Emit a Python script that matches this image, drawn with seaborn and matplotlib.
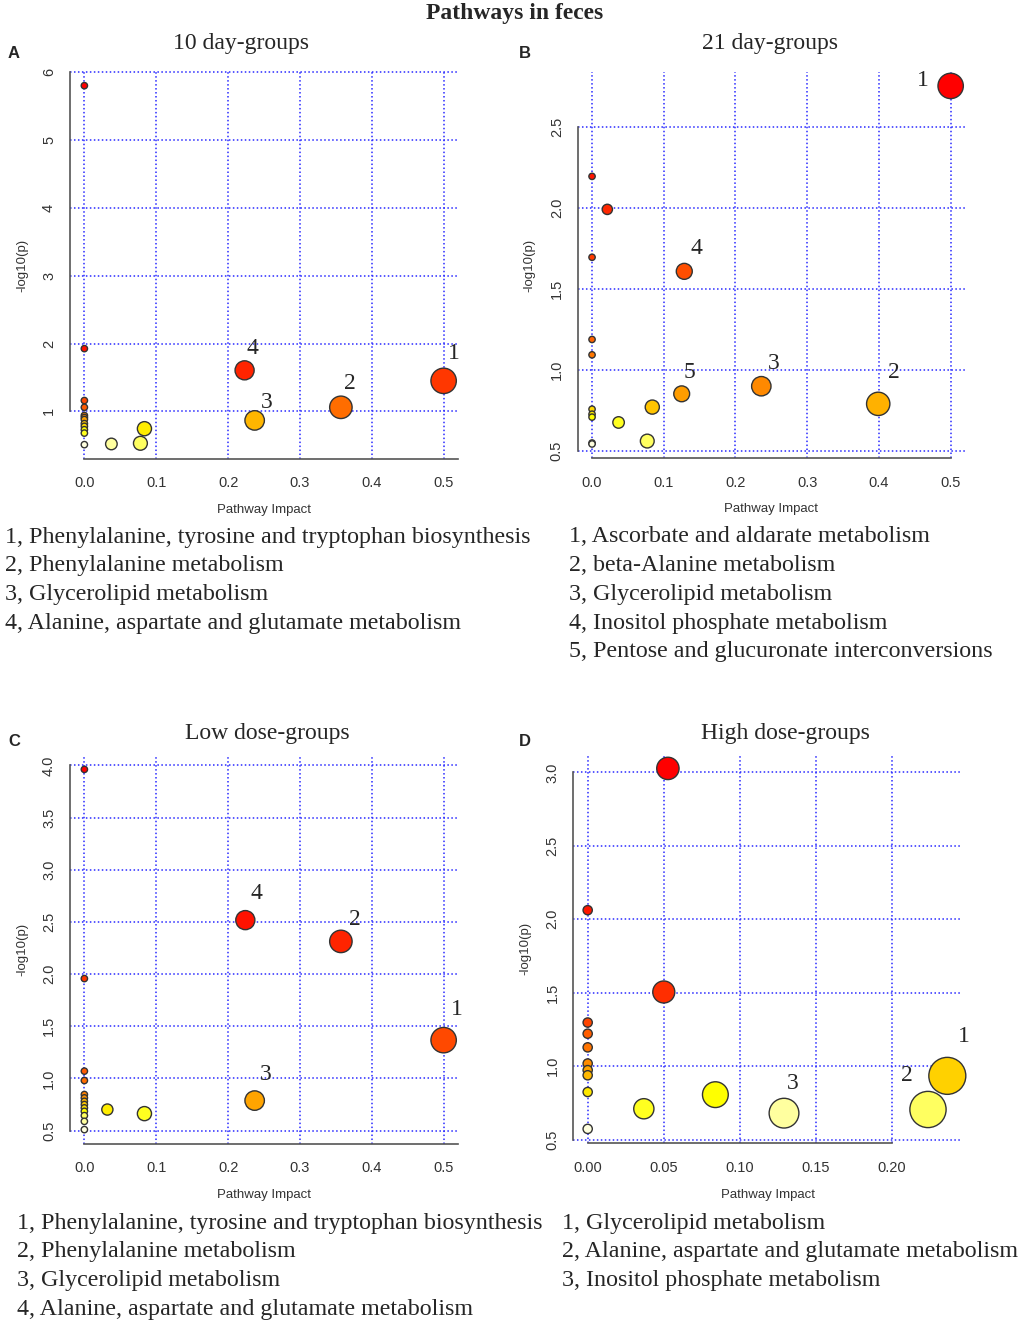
import colorsys

import matplotlib
matplotlib.use("Agg")
import matplotlib.pyplot as plt
import numpy as np
import pandas as pd
import seaborn as sns

W, H, DPI = 1021, 1326, 100

# ---- data: (pathway impact, -log10(p)), numbered hits ----
a_impact = [0, 0, 0.223, 0.5, 0, 0, 0.357, 0, 0, 0, 0.237, 0, 0, 0.0836, 0, 0, 0.078, 0.0376, 0]
a_logp = [5.80, 1.925, 1.605, 1.45, 1.16, 1.06, 1.06, 0.94, 0.91, 0.88, 0.867, 0.82, 0.78, 0.745,
          0.73, 0.68, 0.53, 0.52, 0.51]
a_tag = ["", "", "4", "1", "", "", "2", "", "", "", "3", "", "", "", "", "", "", "", ""]

b_impact = [0.5, 0, 0.0213, 0, 0.1286, 0, 0, 0.236, 0.125, 0.399, 0.084, 0, 0, 0, 0.037, 0.077, 0, 0]
b_logp = [2.755, 2.196, 1.992, 1.696, 1.609, 1.188, 1.093, 0.899, 0.852, 0.790, 0.770, 0.757,
          0.726, 0.708, 0.675, 0.560, 0.548, 0.542]
b_tag = ["1", "", "", "", "4", "", "", "3", "5", "2", "", "", "", "", "", "", "", ""]

c_impact = [0, 0.224, 0.357, 0, 0.5, 0, 0, 0, 0, 0.237, 0, 0, 0, 0.032, 0, 0.0836, 0, 0, 0]
c_logp = [3.961, 2.517, 2.313, 1.957, 1.367, 1.070, 0.980, 0.846, 0.814, 0.788, 0.781, 0.75,
          0.718, 0.702, 0.685, 0.663, 0.644, 0.589, 0.51]
c_tag = ["", "4", "2", "", "1", "", "", "", "", "3", "", "", "", "", "", "", "", "", ""]

d_impact = [0.0527, 0, 0.050, 0, 0, 0, 0, 0, 0, 0.2363, 0, 0.0839, 0.0369, 0.2236, 0.129, 0]
d_logp = [3.027, 2.062, 1.505, 1.297, 1.221, 1.128, 1.018, 0.973, 0.938, 0.934, 0.824, 0.806,
          0.710, 0.705, 0.680, 0.573]
d_tag = ["", "", "", "", "", "", "", "", "", "1", "", "", "", "2", "3", ""]

titles = ["10 day-groups", "21 day-groups", "Low dose-groups", "High dose-groups"]
letters = ["A", "B", "C", "D"]

a_yticks = [1, 2, 3, 4, 5, 6]
b_yticks = [0.5, 1.0, 1.5, 2.0, 2.5]
c_yticks = [0.5, 1.0, 1.5, 2.0, 2.5, 3.0, 3.5, 4.0]
d_yticks = [0.5, 1.0, 1.5, 2.0, 2.5, 3.0]
abc_xticks = [0.0, 0.1, 0.2, 0.3, 0.4, 0.5]
d_xticks = [0.00, 0.05, 0.10, 0.15, 0.20]

a_legend = ["1, Phenylalanine, tyrosine and tryptophan biosynthesis",
            "2, Phenylalanine metabolism",
            "3, Glycerolipid metabolism",
            "4, Alanine, aspartate and glutamate metabolism"]
b_legend = ["1, Ascorbate and aldarate metabolism",
            "2, beta-Alanine metabolism",
            "3, Glycerolipid metabolism",
            "4, Inositol phosphate metabolism",
            "5, Pentose and glucuronate interconversions"]
c_legend = ["1, Phenylalanine, tyrosine and tryptophan biosynthesis",
            "2, Phenylalanine metabolism",
            "3, Glycerolipid metabolism",
            "4, Alanine, aspartate and glutamate metabolism"]
d_legend = ["1, Glycerolipid metabolism",
            "2, Alanine, aspartate and glutamate metabolism",
            "3, Inositol phosphate metabolism"]

# label offsets from the bubble centre, in pixels (right, up)
a_offsets = {"1": (10, 27), "2": (9, 24), "3": (12, 18), "4": (8, 22)}
b_offsets = {"1": (-28, 5), "2": (16, 31), "3": (12, 23), "4": (12, 23), "5": (8, 21)}
c_offsets = {"1": (13, 31), "2": (14, 22), "3": (11, 26), "4": (11, 27)}
d_offsets = {"1": (17, 39), "2": (-21, 34), "3": (9, 30)}

SERIF = ["Liberation Serif", "DejaVu Serif"]
SANS = ["Liberation Sans", "DejaVu Sans"]


def heat_colors(n):
    """R's heat.colors(n)."""
    j = n // 4
    i = n - j
    cols = [colorsys.hsv_to_rgb(h, 1, 1) for h in np.linspace(0, 1 / 6, i)]
    if j > 0:
        cols += [colorsys.hsv_to_rgb(1 / 6, s, 1)
                 for s in np.linspace(1 - 1 / (2 * j), 1 / (2 * j), j)]
    return cols


def pad_range(v):
    lo, hi = min(v), max(v)
    d = (hi - lo) * 0.04
    return lo - d, hi + d


def draw_panel(ax, impact, logp, tags, offsets, yticks, xticks, xfmt, yfmt, xspine_end):
    df = pd.DataFrame({"impact": impact, "logp": logp, "tag": tags})
    df = df.sort_values("logp", ascending=False, kind="mergesort").reset_index(drop=True)
    df["pid"] = [f"p{k}" for k in range(len(df))]
    palette = dict(zip(df["pid"], heat_colors(len(df))))

    xlim = pad_range(df["impact"])
    ylim = pad_range(df["logp"])
    ax.set_xlim(*xlim)
    ax.set_ylim(*ylim)

    # bubble radius in x units, as MetaboAnalyst does
    sqx = np.sqrt(df["impact"].to_numpy())
    mn, mx = sqx.min(), sqx.max()
    max_r = (mx - mn) / 40
    min_r = (mx - mn) / 160
    radius = min_r + (max_r - min_r) * (sqx - mn) / (mx - mn)
    ax_w_px = ax.get_position().width * W
    r_px = radius * ax_w_px / (xlim[1] - xlim[0])
    sizes = (2 * r_px * 72 / DPI) ** 2

    ax.set_xticks(xticks)
    ax.set_yticks(yticks)
    ax.set_xticklabels([xfmt.format(t) for t in xticks])
    ax.set_yticklabels([yfmt.format(t) for t in yticks], rotation=90, va="center")
    ax.grid(True, color="#2a2aff", linestyle=(0, (1, 1.6)), linewidth=1.1)
    ax.set_axisbelow(True)

    sns.scatterplot(data=df, x="impact", y="logp", hue="pid", palette=palette,
                    s=sizes, edgecolor="#333333", linewidth=1.0, legend=False,
                    ax=ax, zorder=3, clip_on=False)

    for _, row in df[df["tag"] != ""].iterrows():
        dx, dy = offsets[row["tag"]]
        ax.annotate(row["tag"], (row["impact"], row["logp"]), xytext=(dx, dy),
                    textcoords="offset pixels", ha="center", va="center",
                    fontsize=17, family=SERIF, zorder=4, annotation_clip=False)

    for side in ("top", "right"):
        ax.spines[side].set_visible(False)
    for side in ("left", "bottom"):
        ax.spines[side].set_color("#555555")
        ax.spines[side].set_linewidth(1.2)
    ax.spines["left"].set_bounds(yticks[0], yticks[-1])
    ax.spines["bottom"].set_bounds(0, xspine_end if xspine_end else xticks[-1])
    ax.tick_params(axis="both", length=5, width=1.1, color="#555555",
                   labelcolor="#333333", labelsize=10.5, direction="out")
    ax.tick_params(axis="x", pad=7.5)
    ax.tick_params(axis="y", pad=5)
    for lab in ax.get_xticklabels() + ax.get_yticklabels():
        lab.set_family(SANS)

    ax.set_xlabel("Pathway Impact", fontsize=9.5, family=SANS, color="#333333")
    ax.set_ylabel("-log10(p)", fontsize=9.5, family=SANS, color="#333333")
    ax.xaxis.set_label_coords(0.5, -0.132)
    ax.yaxis.set_label_coords(-0.124, 0.5)
    ax.xaxis.label.set_va("center")
    ax.yaxis.label.set_va("center")


sns.set_theme(style="white")
plt.rcParams["font.family"] = SANS

fig = plt.figure(figsize=(W / DPI, H / DPI), dpi=DPI)


def add_axes_px(left, top, right, bottom):
    return fig.add_axes([left / W, 1 - bottom / H, (right - left) / W, (bottom - top) / H])


def fig_text(x, y, s, **kw):
    fig.text(x / W, 1 - y / H, s, **kw)


ax_a = add_axes_px(70, 71.3, 458, 459)
ax_b = add_axes_px(577.7, 71.6, 965, 458.3)
ax_c = add_axes_px(70, 755, 458, 1144)
ax_d = add_axes_px(573.3, 754, 961.7, 1143.3)

draw_panel(ax_a, a_impact, a_logp, a_tag, a_offsets, a_yticks, abc_xticks, "{:.1f}", "{:.0f}", 0.52)
draw_panel(ax_b, b_impact, b_logp, b_tag, b_offsets, b_yticks, abc_xticks, "{:.1f}", "{:.1f}", None)
draw_panel(ax_c, c_impact, c_logp, c_tag, c_offsets, c_yticks, abc_xticks, "{:.1f}", "{:.1f}", 0.52)
draw_panel(ax_d, d_impact, d_logp, d_tag, d_offsets, d_yticks, d_xticks, "{:.2f}", "{:.1f}", None)

fig_text(515, 13, "Pathways in feces", ha="center", va="center", fontsize=17,
         fontweight="bold", family=SERIF)

title_xy = [(241, 43), (770, 43), (267, 733), (785, 733)]
letter_xy = [(14, 54), (525, 54), (14, 741), (525, 741)]
for (tx, ty), t in zip(title_xy, titles):
    fig_text(tx, ty, t, ha="center", va="center", fontsize=17, family=SERIF)
for (lx, ly), t in zip(letter_xy, letters):
    fig_text(lx, ly, t, ha="center", va="center", fontsize=12, fontweight="bold", family=SANS)

legend_origin = [(5, 537, a_legend), (569, 537, b_legend), (17, 1223, c_legend), (562, 1223, d_legend)]
for x0, y0, lines in legend_origin:
    for k, line in enumerate(lines):
        fig_text(x0, y0 + k * 28.7, line, ha="left", va="center", fontsize=17.3, family=SERIF)

fig.savefig("out.png", dpi=DPI)
